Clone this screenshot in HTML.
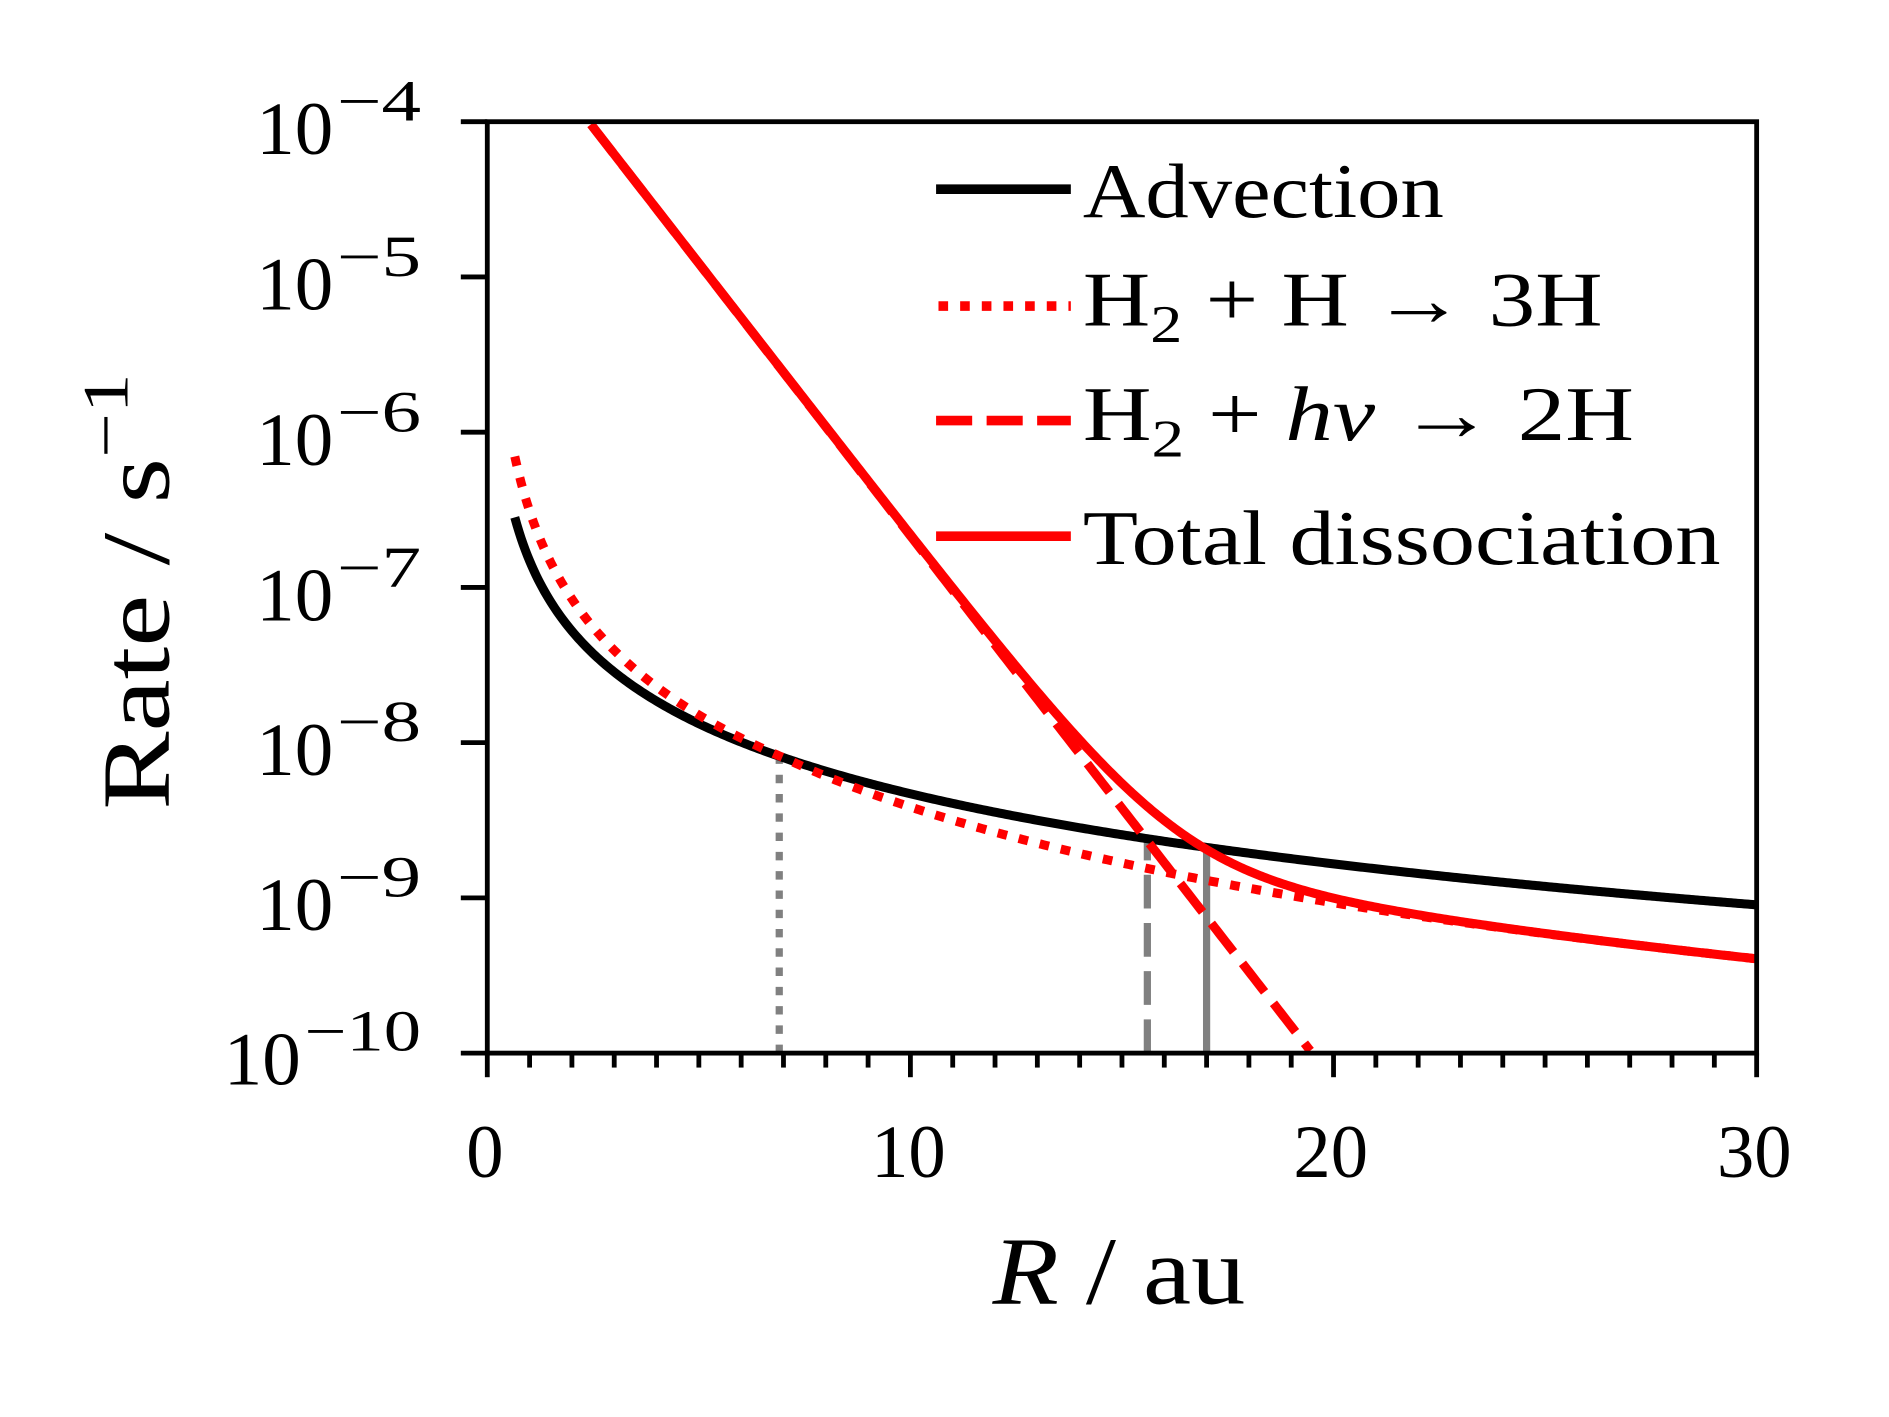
<!DOCTYPE html>
<html><head><meta charset="utf-8"><style>
html,body{margin:0;padding:0;background:#fff}
svg{display:block}
text{font-family:"Liberation Serif","DejaVu Serif",serif;fill:#000}
</style></head><body>
<svg id="s" width="1889" height="1417" viewBox="0 0 1570 1176" preserveAspectRatio="none" xmlns="http://www.w3.org/2000/svg">
<g id="curves"></g>
<g stroke="#000" stroke-width="4" id="ticks"></g>
<rect x="405" y="101" width="1055" height="773" fill="none" stroke="#000" stroke-width="4"/>
<g font-size="62">
<text x="213" y="128" textLength="64" lengthAdjust="spacingAndGlyphs">10</text><text x="280" y="100" font-size="48" textLength="70" lengthAdjust="spacingAndGlyphs">−4</text>
<text x="213" y="257" textLength="64" lengthAdjust="spacingAndGlyphs">10</text><text x="280" y="229" font-size="48" textLength="70" lengthAdjust="spacingAndGlyphs">−5</text>
<text x="213" y="386" textLength="64" lengthAdjust="spacingAndGlyphs">10</text><text x="280" y="358" font-size="48" textLength="70" lengthAdjust="spacingAndGlyphs">−6</text>
<text x="213" y="515" textLength="64" lengthAdjust="spacingAndGlyphs">10</text><text x="280" y="487" font-size="48" textLength="70" lengthAdjust="spacingAndGlyphs">−7</text>
<text x="213" y="643" textLength="64" lengthAdjust="spacingAndGlyphs">10</text><text x="280" y="615" font-size="48" textLength="70" lengthAdjust="spacingAndGlyphs">−8</text>
<text x="213" y="772" textLength="64" lengthAdjust="spacingAndGlyphs">10</text><text x="280" y="744" font-size="48" textLength="70" lengthAdjust="spacingAndGlyphs">−9</text>
<text x="186" y="900" textLength="64" lengthAdjust="spacingAndGlyphs">10</text><text x="253" y="872" font-size="48" textLength="97" lengthAdjust="spacingAndGlyphs">−10</text>
</g>
<g font-size="62" text-anchor="middle">
<text x="403" y="977">0</text><text x="755" y="977">10</text><text x="1106" y="977">20</text><text x="1458" y="977">30</text>
</g>
<text x="825" y="1082" font-size="80" textLength="210" lengthAdjust="spacingAndGlyphs"><tspan font-style="italic">R</tspan> / au</text>
<text transform="translate(140,672) rotate(-90)" font-size="80" textLength="362" lengthAdjust="spacingAndGlyphs">Rate / s<tspan dy="-34" font-size="54">−1</tspan></text>
<g stroke-width="8" fill="none">
<line x1="778" y1="157" x2="890" y2="157" stroke="#000"/>
<line x1="780" y1="254" x2="890" y2="254" stroke="#f00" stroke-dasharray="8,10"/>
<line x1="778" y1="349" x2="890" y2="349" stroke="#f00" stroke-dasharray="30,12"/>
<line x1="778" y1="445" x2="890" y2="445" stroke="#f00"/>
</g>
<g font-size="64">
<text x="900" y="180" textLength="300" lengthAdjust="spacingAndGlyphs">Advection</text>
<text x="900" y="270" textLength="432" lengthAdjust="spacingAndGlyphs">H<tspan dy="14" font-size="44">2</tspan><tspan dy="-14"> + H → 3H</tspan></text>
<text x="900" y="365" textLength="458" lengthAdjust="spacingAndGlyphs">H<tspan dy="14" font-size="44">2</tspan><tspan dy="-14"> + </tspan><tspan font-style="italic">hν</tspan> → 2H</text>
<text x="900" y="468" textLength="530" lengthAdjust="spacingAndGlyphs">Total dissociation</text>
</g>
</svg>
<script>
var X0=405,XS=1055/30,YT=101,YB=874,YD=(YB-YT)/6;
function px(R){return X0+R*XS}
function py(v){return YT+(-4-Math.log10(v))*YD}
function adv(R){return 8e-9*Math.pow(R/7,-1.5)}
function tb(R){return R<7?8e-9*Math.pow(R/7,-1.88):8e-9*Math.pow(R/7,-2.05)}
function ph(R){return Math.pow(10,-4-0.351*(R-2.4))}
function tot(R){return tb(R)+ph(R)}
function path(f,a,b){var d="";for(var R=a;R<=b+1e-9;R+=0.05){var y=py(f(R));if(y<YT)continue;if(y>YB)break;d+=(d?"L":"M")+px(R).toFixed(2)+","+y.toFixed(2);}return d}
var g=document.getElementById("curves"),ns="http://www.w3.org/2000/svg";
function add(d,c,w,da){var p=document.createElementNS(ns,"path");p.setAttribute("d",d);p.setAttribute("stroke",c);p.setAttribute("stroke-width",w);p.setAttribute("fill","none");if(da)p.setAttribute("stroke-dasharray",da);g.appendChild(p);}
function vl(R,v,da){add("M"+px(R)+","+YB+"L"+px(R)+","+py(v),"#808080",6,da)}
vl(6.9,adv(6.9),"7,9");vl(15.6,adv(15.6),"28,12");vl(17,adv(17),null);
add(path(adv,0.65,30),"#000",7.5);
add(path(tb,0.65,30),"#f00",7.5,"8,10");
add(path(ph,2,30),"#f00",7.5,"30,12");
add(path(tot,2,30),"#f00",7.5);
var t=document.getElementById("ticks"),h="";
for(var i=0;i<=30;i++){var x=px(i),L=(i%10==0)?20:12;h+='<line x1="'+x+'" y1="'+YB+'" x2="'+x+'" y2="'+(YB+L)+'"/>';}
for(var k=0;k<=6;k++){var y=YT+k*YD;h+='<line x1="405" y1="'+y+'" x2="383" y2="'+y+'"/>';}
t.innerHTML=h;
</script>
</body></html>
